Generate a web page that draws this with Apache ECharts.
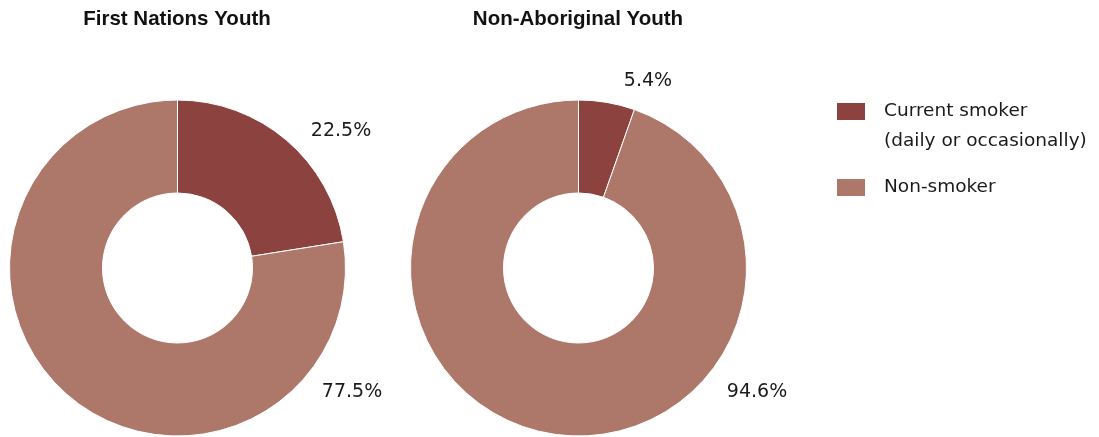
<!DOCTYPE html>
<html>
<head>
<meta charset="utf-8">
<script src="https://cdn.jsdelivr.net/npm/echarts@6/dist/echarts.min.js"></script>
<style>
  html, body { margin: 0; padding: 0; background: #fff; }
  #chart { width: 1099px; height: 437px; }
</style>
</head>
<body>
<div id="chart"></div>
<script>
// Smoking status of youth, percent of each group
const categories = ['Current smoker\n(daily or occasionally)', 'Non-smoker'];
const groups = ['First Nations Youth', 'Non-Aboriginal Youth'];
const firstNations = [22.5, 77.5];
const nonAboriginal = [5.4, 94.6];

const colors = ['#8c433f', '#ad786a'];
const font = '"DejaVu Sans", sans-serif';
const titleFont = '"Liberation Sans", Arial, sans-serif';

// where each percentage label sits, per ring and slice
const labelSpots = [
  [[341, 131], [352, 392]],
  [[648, 81], [757, 392]]
];

function ring(name, values, cx, idx) {
  return {
    type: 'pie',
    name: name,
    center: [cx, 268],
    radius: [75, 168],
    startAngle: 90,
    clockwise: true,
    silent: true,
    itemStyle: { borderColor: '#fff', borderWidth: 1 },
    label: {
      show: true,
      position: 'outside',
      formatter: p => p.value.toFixed(1) + '%',
      fontFamily: font,
      fontSize: 19,
      color: '#1a1a1a',
      overflow: 'none',
      width: 120
    },
    labelLine: { show: false },
    labelLayout: p => ({
      x: labelSpots[idx][p.dataIndex][0],
      y: labelSpots[idx][p.dataIndex][1],
      align: 'center',
      verticalAlign: 'middle'
    }),
    data: categories.map((c, i) => ({ name: c, value: values[i], itemStyle: { color: colors[i] } }))
  };
}

// legend text: one rich run per line, the first entry lifted so its top line sits beside the swatch
const legendText = (name, lead) =>
  (lead ? '{t| }\n' : '') + name.split('\n').map(s => '{t|' + s + '}').join('\n');
const legendRich = { t: { fontFamily: font, fontSize: 18.5, color: '#1a1a1a', lineHeight: 30, padding: [0, 0, 0, 13] } };

const chart = echarts.init(document.getElementById('chart'));
chart.setOption({
  animation: false,
  color: colors,
  title: [
    { text: groups[0], left: 177, top: 9, padding: 0, textAlign: 'center',
      textStyle: { fontFamily: titleFont, fontWeight: 'bold', fontSize: 20.5, color: '#111' } },
    { text: groups[1], left: 578, top: 9, padding: 0, textAlign: 'center',
      textStyle: { fontFamily: titleFont, fontWeight: 'bold', fontSize: 20.5, color: '#111' } }
  ],
  legend: [
    {
      data: [categories[0]],
      left: 835, top: 72, padding: 0,
      itemWidth: 30, itemHeight: 19,
      icon: 'rect', selectedMode: false,
      formatter: n => legendText(n, true),
      textStyle: { rich: legendRich }
    },
    {
      data: [categories[1]],
      left: 835, top: 177, padding: 0,
      itemWidth: 30, itemHeight: 19,
      icon: 'rect', selectedMode: false,
      formatter: n => legendText(n, false),
      textStyle: { rich: legendRich }
    }
  ],
  series: [
    ring(groups[0], firstNations, 177.5, 0),
    ring(groups[1], nonAboriginal, 578.5, 1)
  ]
});
</script>
</body>
</html>
